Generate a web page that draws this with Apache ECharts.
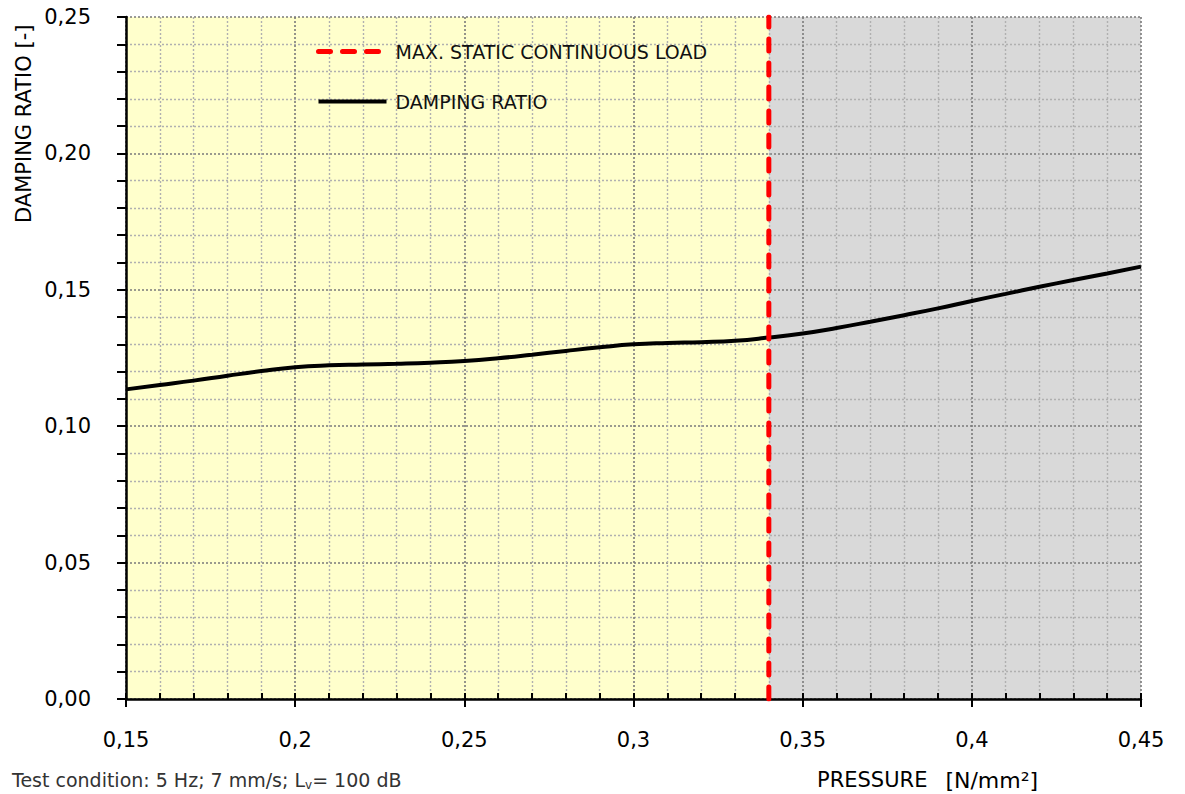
<!DOCTYPE html>
<html>
<head>
<meta charset="utf-8">
<script src="https://cdn.jsdelivr.net/npm/echarts@6/dist/echarts.min.js"></script>
<style>
  html, body { margin: 0; padding: 0; background: #fff; }
  #chart { width: 1185px; height: 794px; }
</style>
</head>
<body>
<div id="chart"></div>
<script>
// pressure [N/mm²] and damping ratio
var pressure = [0.15, 0.16, 0.17, 0.18, 0.19, 0.20, 0.21, 0.22, 0.23, 0.24, 0.25,
  0.26, 0.27, 0.28, 0.29, 0.30, 0.31, 0.32, 0.33, 0.34, 0.35, 0.36, 0.37, 0.38,
  0.39, 0.40, 0.41, 0.42, 0.43, 0.44, 0.45];
var damping = [0.1135, 0.1151, 0.1167, 0.1185, 0.1202, 0.1216, 0.1223, 0.1226, 0.1229, 0.1233, 0.1239,
  0.1249, 0.1262, 0.1276, 0.1289, 0.1300, 0.1305, 0.1308, 0.1313, 0.1325, 0.1340, 0.1360, 0.1383, 0.1407,
  0.1432, 0.1459, 0.1485, 0.1511, 0.1536, 0.1560, 0.1585];

// max static continuous load (vertical line)
var loadLimit = 0.34;
var limitSpan = [0, 0.25];

// shaded zones: from, to
var zoneFrom = [0.15, 0.34];
var zoneTo = [0.34, 0.45];
var zoneColors = ['#FFFFCC', '#D9D9D9'];

var xTickLabels = ['0,15', '0,2', '0,25', '0,3', '0,35', '0,4', '0,45'];
var yTickLabels = ['0,00', '0,05', '0,10', '0,15', '0,20', '0,25'];

var FONT = '"DejaVu Sans", "Liberation Sans", sans-serif';

var chart = echarts.init(document.getElementById('chart'), null, { renderer: 'svg' });

var majorGrid = { show: true, lineStyle: { color: '#7a7a7a', width: 1.6, type: [2, 2] } };
var minorGrid = { show: true, lineStyle: { color: '#b0b0b0', width: 1.4, type: [2, 2] } };
var redDash = { color: '#ff0000', width: 5, type: [12, 12], cap: 'round' };

var option = {
  animation: false,
  backgroundColor: '#ffffff',
  grid: { left: 126, right: 44, top: 17, bottom: 95, containLabel: false },
  legend: {
    orient: 'vertical',
    left: 316,
    top: 42,
    padding: 0,
    itemWidth: 68,
    itemHeight: 14,
    itemGap: 31,
    itemStyle: { opacity: 0 },
    data: [
      { name: 'MAX. STATIC CONTINUOUS LOAD', lineStyle: redDash },
      { name: 'DAMPING RATIO', lineStyle: { color: '#000', width: 4, type: 'solid' } }
    ],
    textStyle: { fontFamily: FONT, fontSize: 19, color: '#111', padding: [0, 0, 0, 4] }
  },
  xAxis: [{
    type: 'value',
    position: 'bottom',
    min: 0.15,
    max: 0.45,
    interval: 0.05,
    z: 2,
    axisLine: { show: true, lineStyle: { color: '#000', width: 2.5 } },
    axisTick: { show: true, length: 8, lineStyle: { color: '#000', width: 2 } },
    minorTick: { show: false, splitNumber: 5 },
    splitLine: majorGrid,
    minorSplitLine: minorGrid,
    axisLabel: {
      margin: 30,
      fontFamily: FONT,
      fontSize: 21,
      color: '#000',
      formatter: function (v) {
        return xTickLabels[Math.round((v - 0.15) / 0.05)];
      }
    }
  }, {
    type: 'value',
    position: 'bottom',
    min: 0.15,
    max: 0.45,
    interval: 0.05,
    z: 2,
    axisLine: { show: false },
    axisTick: { show: true, inside: true, length: 6, lineStyle: { color: '#000', width: 2 } },
    minorTick: { show: true, splitNumber: 5, length: 6, lineStyle: { color: '#000', width: 2 } },
    splitLine: { show: false },
    axisLabel: { show: false }
  }],
  yAxis: {
    type: 'value',
    min: 0,
    max: 0.25,
    interval: 0.05,
    z: 2,
    axisLine: { show: true, lineStyle: { color: '#000', width: 2.5 } },
    axisTick: { show: true, length: 9, lineStyle: { color: '#000', width: 2 } },
    minorTick: { show: true, splitNumber: 5, length: 9, lineStyle: { color: '#000', width: 2 } },
    splitLine: majorGrid,
    minorSplitLine: minorGrid,
    axisLabel: {
      margin: 35,
      fontFamily: FONT,
      fontSize: 21,
      color: '#000',
      formatter: function (v) {
        return yTickLabels[Math.round(v / 0.05)];
      }
    }
  },
  series: [{
    // background zones
    name: 'zones',
    type: 'line',
    z: 1,
    silent: true,
    symbol: 'none',
    lineStyle: { width: 0, opacity: 0 },
    data: [[pressure[0], damping[0]]],
    markArea: {
      silent: true,
      z: 1,
      data: zoneFrom.map(function (f, i) {
        return [{ xAxis: f, itemStyle: { color: zoneColors[i] } }, { xAxis: zoneTo[i] }];
      })
    }
  }, {
    name: 'DAMPING RATIO',
    type: 'line',
    z: 4,
    smooth: true,
    symbol: 'none',
    color: '#000',
    lineStyle: { color: '#000', width: 4 },
    data: pressure.map(function (p, i) { return [p, damping[i]]; })
  }, {
    name: 'MAX. STATIC CONTINUOUS LOAD',
    type: 'line',
    z: 5,
    symbol: 'none',
    color: '#ff0000',
    lineStyle: redDash,
    data: limitSpan.map(function (y) { return [loadLimit, y]; })
  }],
  graphic: [{
    type: 'text',
    x: 24,
    y: 223,
    rotation: Math.PI / 2,
    style: {
      text: 'DAMPING RATIO [-]',
      fontFamily: FONT,
      fontSize: 21,
      fill: '#000',
      align: 'left',
      verticalAlign: 'middle'
    }
  }, {
    type: 'text',
    x: 12,
    y: 780,
    style: {
      text: 'Test condition: 5 Hz; 7 mm/s; L{sub|v}= 100 dB',
      fontFamily: FONT,
      fontSize: 19,
      fill: '#333',
      align: 'left',
      verticalAlign: 'middle',
      rich: {
        sub: { fontFamily: FONT, fontSize: 12, fill: '#333', verticalAlign: 'bottom', padding: [10, 0, 0, 0] }
      }
    }
  }, {
    type: 'text',
    x: 817,
    y: 780,
    style: {
      text: '{a|PRESSURE}{b|[N/mm²]}',
      fontFamily: FONT,
      fill: '#000',
      align: 'left',
      verticalAlign: 'middle',
      rich: {
        a: { fontFamily: FONT, fontSize: 21, fill: '#000', padding: [0, 18, 0, 0] },
        b: { fontFamily: FONT, fontSize: 22, fill: '#000' }
      }
    }
  }]
};

chart.setOption(option);
</script>
</body>
</html>
